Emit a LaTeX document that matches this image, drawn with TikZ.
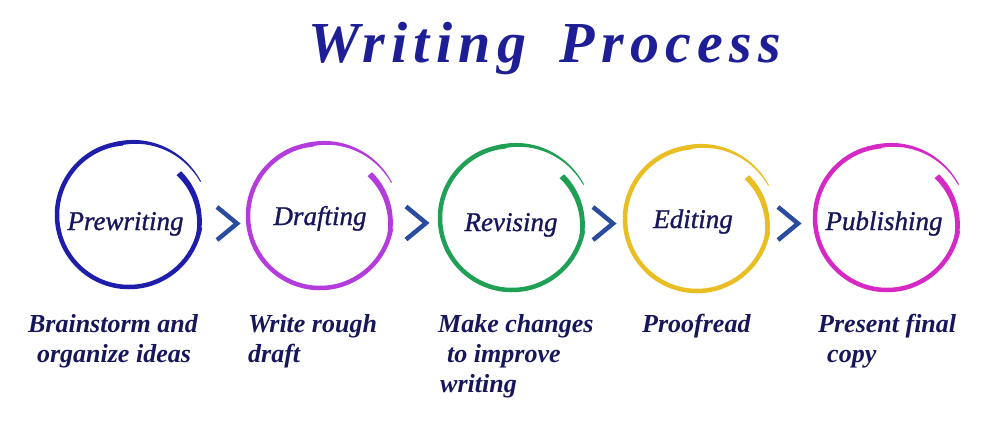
\documentclass[tikz,border=0pt]{standalone}
\usepackage{fontspec}
\setmainfont{Liberation Serif}
\newfontfamily\titlefont[LetterSpace=11]{Liberation Serif}
\newfontfamily\inlabelfont[FakeBold=1]{Liberation Serif}
\usetikzlibrary{calc}
\definecolor{ttl}{RGB}{30,30,150}
\definecolor{lbl}{RGB}{22,22,90}
\definecolor{chevc}{RGB}{42,76,158}
\definecolor{cblue}{RGB}{30,30,170}
\definecolor{cpurple}{RGB}{180,60,220}
\definecolor{cgreen}{RGB}{31,160,85}
\definecolor{cyellow}{RGB}{233,189,36}
\definecolor{cmagenta}{RGB}{213,40,197}
\tikzset{
  x=1pt, y=1pt,
  inlabel/.style={text=lbl, inner sep=0, anchor=base, font=\inlabelfont\fontsize{27}{30}\selectfont\itshape},
  sublabel/.style={text=lbl, inner sep=0, anchor=base west, font=\fontsize{26}{30}\selectfont\bfseries\itshape},
  chev/.style={draw=chevc, line width=4.5pt, miter limit=10},
}
\newcommand\brushring[2]{%
  \begin{scope}[shift={(#1)}]
    \draw[#2, line width=4.5pt] (95:72) arc[start angle=95, end angle=350, radius=72];
    \fill[#2] plot[domain=100:25, samples=40] (\x:{72+7*(100-\x)/75 + (4.5-3.5*(100-\x)/75)/2})
      -- plot[domain=25:100, samples=40] (\x:{72+7*(100-\x)/75 - (4.5-3.5*(100-\x)/75)/2}) -- cycle;
    \fill[#2] plot[domain=40:-15, samples=40] (\x:{65+7*(40-\x)/55 + (6-1.5*(40-\x)/55)/2})
      -- plot[domain=-15:40, samples=40] (\x:{65+7*(40-\x)/55 - (6-1.5*(40-\x)/55)/2}) -- cycle;
  \end{scope}}
\begin{document}
\begin{tikzpicture}
\useasboundingbox (0,0) rectangle (1000,-421);
\fill[white] (0,0) rectangle (1000,-421);
% title
\node[text=ttl, inner sep=0, anchor=base] (title) at (545,-62)
  {\titlefont\fontsize{58}{60}\selectfont\bfseries\itshape Writing\hspace{12pt} Process};
% ring centres
\coordinate (r1) at (129,-215);
\coordinate (r2) at (320,-216);
\coordinate (r3) at (512,-218);
\coordinate (r4) at (697,-219);
\coordinate (r5) at (887,-218);
\brushring{r1}{cblue}
\brushring{r2}{cpurple}
\brushring{r3}{cgreen}
\brushring{r4}{cyellow}
\brushring{r5}{cmagenta}
% circle labels
\node[inlabel] (t1) at (125.5,-230) {Prewriting};
\node[inlabel] (t2) at (320,-225) {Drafting};
\node[inlabel] (t3) at (511,-231) {Revising};
\node[inlabel] (t4) at (693,-228) {Editing};
\node[inlabel] (t5) at (884,-230) {Publishing};
% chevrons
\coordinate (m1) at (227,-223.5);
\coordinate (m2) at (416,-223);
\coordinate (m3) at (603,-223.5);
\coordinate (m4) at (788,-223.5);
\foreach \m in {m1,m2,m3,m4}
  \draw[chev] ([shift={(-10,16.5)}]\m) -- ([shift={(10,0)}]\m) -- ([shift={(-10,-16.5)}]\m);
% descriptions
\node[sublabel, anchor=base] (d1a) at (113,-332) {Brainstorm and};
\node[sublabel, anchor=base] (d1b) at (114,-362) {organize ideas};
\node[sublabel] (d2a) at (248,-332) {Write rough};
\node[sublabel] (d2b) at (248,-362) {draft};
\node[sublabel] (d3a) at (438,-332) {Make changes};
\node[sublabel] (d3b) at (447,-362) {to improve};
\node[sublabel] (d3c) at (440,-392) {writing};
\node[sublabel] (d4a) at (642,-332) {Proofread};
\node[sublabel] (d5a) at (818,-332) {Present final};
\node[sublabel] (d5b) at (827,-362) {copy};
\end{tikzpicture}
\end{document}
